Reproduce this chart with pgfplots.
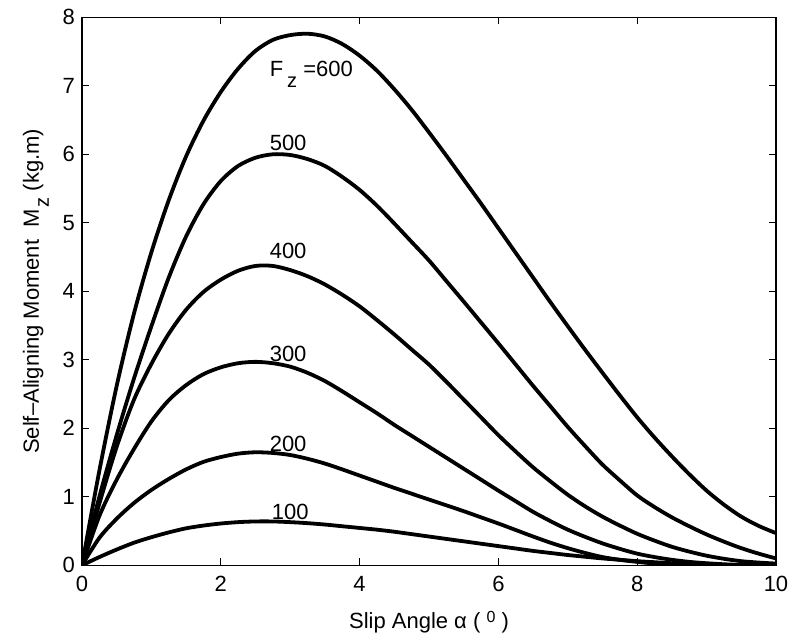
\documentclass[border=0pt]{standalone}
\usepackage{fontspec}
\setmainfont{Liberation Sans}
\usepackage{pgfplots}
\pgfplotsset{compat=1.18}
\usepackage{pgfplotstable}

% self-aligning moment Mz (kg.m) vs slip angle, one column per Fz
\pgfplotstableread{
a     m100  m200  m300  m400  m500  m600
0     0     0     0     0     0     0
0.25  0.12  0.40  0.72  0.90  1.00  1.38
0.5   0.23  0.68  1.25  1.73  1.90  2.62
0.75  0.33  0.91  1.70  2.42  2.73  3.68
1.0   0.41  1.10  2.10  2.94  3.49  4.57
1.25  0.48  1.26  2.41  3.38  4.20  5.33
1.5   0.54  1.40  2.63  3.73  4.80  5.97
1.75  0.58  1.51  2.79  3.99  5.27  6.49
2.0   0.61  1.58  2.89  4.17  5.61  6.91
2.25  0.63  1.63  2.95  4.30  5.83  7.25
2.5   0.64  1.65  2.97  4.37  5.95  7.51
2.75  0.64  1.64  2.95  4.37  6.00  7.67
3.0   0.63  1.61  2.90  4.31  5.99  7.74
3.25  0.615 1.555 2.81  4.22  5.93  7.76
3.5   0.595 1.485 2.69  4.10  5.83  7.72
3.75  0.57  1.40  2.54  3.95  5.67  7.61
4.0   0.545 1.31  2.38  3.78  5.48  7.44
4.25  0.52  1.22  2.22  3.58  5.25  7.22
4.5   0.49  1.13  2.05  3.37  4.99  6.95
4.75  0.455 1.045 1.89  3.15  4.72  6.65
5.0   0.42  0.96  1.73  2.93  4.45  6.32
5.25  0.385 0.875 1.57  2.68  4.15  5.98
5.5   0.35  0.79  1.41  2.42  3.85  5.63
5.75  0.315 0.70  1.25  2.16  3.545 5.28
6.0   0.28  0.61  1.09  1.90  3.24  4.92
6.25  0.245 0.515 0.935 1.66  2.93  4.56
6.5   0.21  0.42  0.78  1.43  2.62  4.20
6.75  0.18  0.33  0.645 1.225 2.32  3.84
7.0   0.15  0.25  0.52  1.03  2.02  3.49
7.25  0.125 0.18  0.415 0.86  1.74  3.145
7.5   0.10  0.12  0.32  0.71  1.47  2.81
7.75  0.08  0.08  0.24  0.58  1.24  2.48
8.0   0.06  0.05  0.17  0.46  1.02  2.16
8.25  0.045 0.025 0.12  0.36  0.85  1.865
8.5   0.03  0.01  0.08  0.27  0.70  1.59
8.75  0.02  0.003 0.05  0.20  0.57  1.33
9.0   0.01  0     0.03  0.14  0.45  1.09
9.25  0.005 0     0.015 0.095 0.345 0.885
9.5   0     0     0.005 0.06  0.25  0.71
9.75  0     0     0     0.04  0.17  0.575
10.0  0     0     0     0.025 0.10  0.47
}\mzdata

\begin{document}
\begin{tikzpicture}
\begin{axis}[
  scale only axis,
  width=347pt, height=274pt,
  xmin=0, xmax=10, ymin=0, ymax=8,
  xtick={0,2,...,10}, ytick={0,1,...,8},
  tick align=inside,
  major tick length=3.4pt,
  axis line style={line width=0.6pt},
  every tick/.style={black, line width=0.5pt},
  /pgf/number format/assume math mode=true,
  tick label style={font=\fontsize{11}{13}\selectfont},
  xticklabel style={yshift=-2pt},
  label style={font=\fontsize{11}{13}\selectfont},
  xlabel style={yshift=-3pt},
  xlabel={Slip Angle α ( \raisebox{3pt}{\fontsize{8}{8}\selectfont 0} )},
  ylabel={Self--Aligning Moment\ \ M\hspace{1pt}\raisebox{-5pt}{\fontsize{10}{10}\selectfont z} (kg.m)},
  every axis plot/.append style={smooth},
  every axis plot post/.append style={black, solid, line width=1.9pt, mark=none},
]
\addplot table[x=a, y=m100] {\mzdata};
\addplot table[x=a, y=m200] {\mzdata};
\addplot table[x=a, y=m300] {\mzdata};
\addplot table[x=a, y=m400] {\mzdata};
\addplot table[x=a, y=m500] {\mzdata};
\addplot table[x=a, y=m600] {\mzdata};

\begin{scope}[every node/.style={anchor=base west, inner sep=0pt, font=\fontsize{11}{13}\selectfont}]
\node at (axis cs:2.70,7.13) {F\hspace{2pt}\raisebox{-5.5pt}{\fontsize{10}{10}\selectfont z} =600};
\node at (axis cs:2.70,6.06) {500};
\node at (axis cs:2.70,4.48) {400};
\node at (axis cs:2.70,2.98) {300};
\node at (axis cs:2.70,1.66) {200};
\node at (axis cs:2.73,0.67) {100};
\end{scope}
\end{axis}
\pgfresetboundingbox
\path (current axis.south west) ++(-41pt,-38pt) rectangle ([xshift=8.5pt,yshift=8.65pt]current axis.north east);
\end{tikzpicture}
\end{document}
